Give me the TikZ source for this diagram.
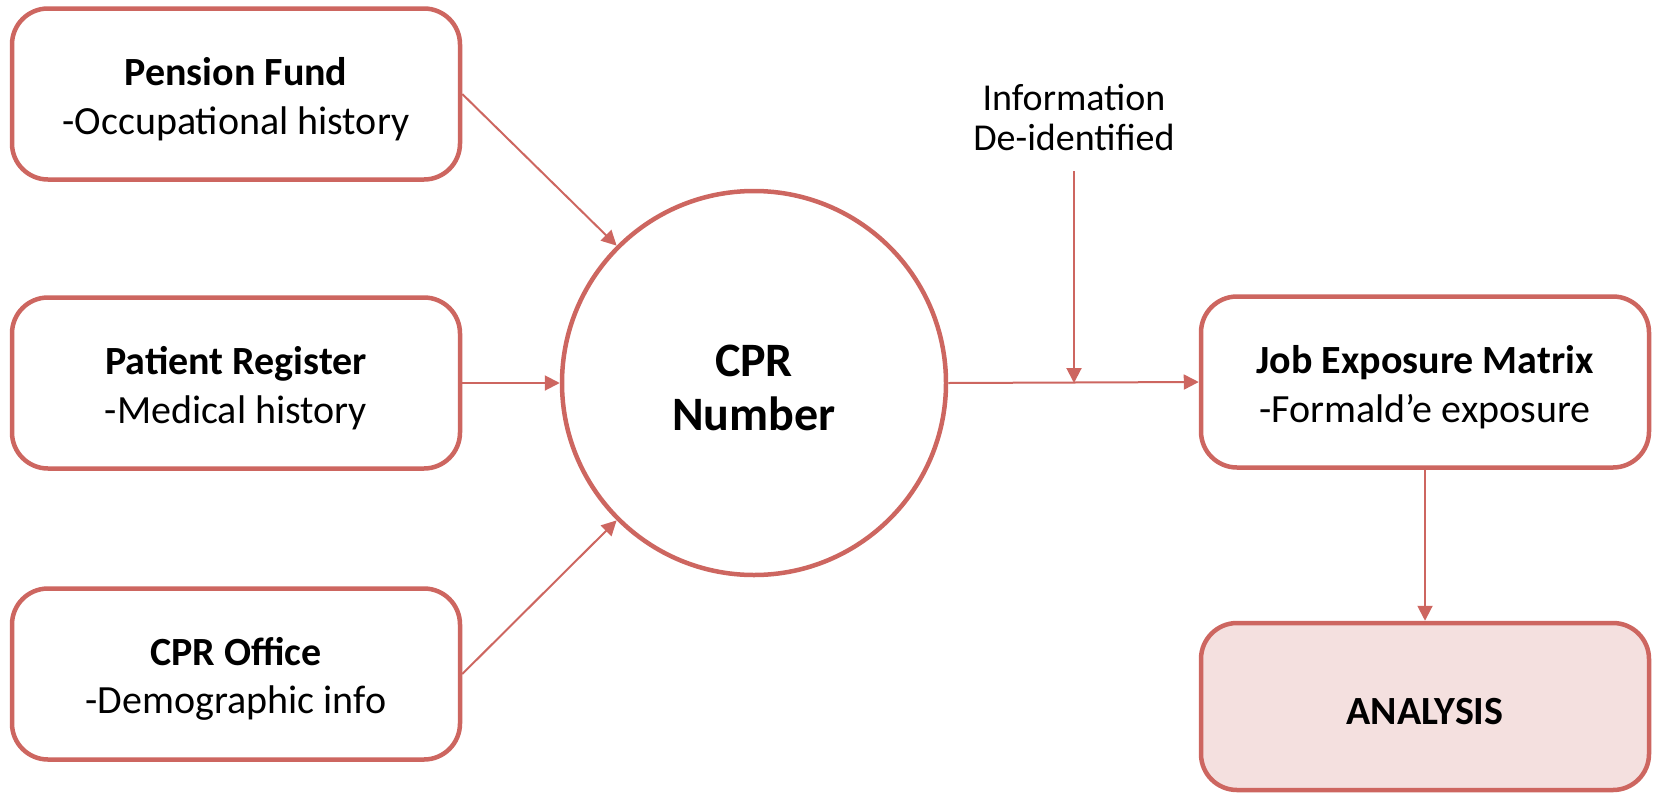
\documentclass[tikz,border=0pt]{standalone}
\usepackage{fontspec}
\setmainfont{Carlito}
\usetikzlibrary{arrows.meta}
\definecolor{edgecol}{RGB}{205,102,96}
\definecolor{pinkfill}{RGB}{244,224,223}
\begin{document}
\begin{tikzpicture}[x=1pt,y=-1pt,
  box/.style={draw=edgecol, line width=4.5pt, rounded corners=36pt, minimum width=448pt, minimum height=171pt, fill=white,
    label={[yshift=-5pt, align=center, font=\fontsize{40}{48.5}\selectfont]center:#1}},
  conn/.style={draw=edgecol, line width=2pt, -{Triangle[length=15pt,width=15pt]}}]
\useasboundingbox (0,0) rectangle (1657,793);
\node[box={\textbf{Pension Fund}\\-Occupational history}] (pf) at (236,94) {};
\node[box={\textbf{Patient Register}\\-Medical history}] (pr) at (236,383) {};
\node[box={\textbf{CPR Office}\\-Demographic info}] (co) at (236,674) {};
\node[draw=edgecol, line width=4.5pt, circle, minimum size=384pt] (cpr) at (754,383) {};
\node[align=center, font=\fontsize{48}{54}\selectfont\bfseries] (cprt) at (754,388) {CPR\\Number};
\node[box={\textbf{Job Exposure Matrix}\\-Formald’e exposure}] (jem) at (1425,382) {};
\node[box={\textbf{ANALYSIS}}, fill=pinkfill, minimum height=167pt] (an) at (1425,706.5) {};
\node[align=center, font=\fontsize{38}{40}\selectfont] (info) at (1074,117) {Information\\De-identified};
\coordinate (dtop) at (1074,171);
\draw[conn] (pf.east) -- (cpr.135);
\draw[conn] (pr.east) -- (cpr.west);
\draw[conn] (co.east) -- (cpr.225);
\draw[conn] (cpr.east) -- (jem.west);
\draw[conn] (dtop) -- (dtop |- cpr.east);
\draw[conn] (jem.south) -- (an.north);
\end{tikzpicture}
\end{document}
